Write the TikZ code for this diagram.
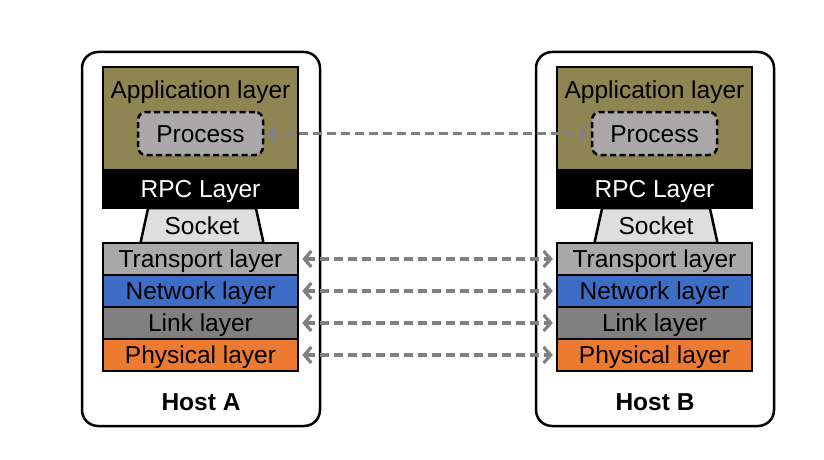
\documentclass[tikz,border=0pt]{standalone}
\usepackage{fontspec}
\setmainfont{Liberation Sans}
\usetikzlibrary{shapes,arrows.meta}
\definecolor{appcol}{HTML}{8E8553}
\definecolor{sockcol}{HTML}{DEDEDE}
\definecolor{transcol}{HTML}{A9A9A9}
\definecolor{netcol}{HTML}{3E6DC6}
\definecolor{linkcol}{HTML}{808080}
\definecolor{physcol}{HTML}{EC7A30}
\definecolor{proccol}{HTML}{AAA8A8}
\definecolor{arrcol}{HTML}{808080}
\tikzset{
	host/.style     = {draw, line width=2.5, rounded corners=16, minimum width=238,
		minimum height=374},
	caps/.style     = {font=\txt, text height=17.5, text depth=0},
	layer/.style    = {draw, line width=2.5, minimum width=195, minimum height=32,
		inner sep=0, caps},
	proc/.style     = {draw, line width=2.5, dash pattern=on 6 off 3.5, rounded corners=8,
		fill=proccol, minimum width=125, minimum height=43, inner sep=0, caps},
	sock/.style     = {draw, line width=2.5, trapezium, trapezium left angle=73,
		trapezium right angle=73, trapezium stretches, minimum width=124,
		minimum height=35, inner sep=0, fill=sockcol, caps},
	link/.style     = {draw=arrcol, line width=3.2, dash pattern=on 9 off 5,
		{Straight Barb[length=7,width=16,line width=3.2]}-{Straight Barb[length=7,width=16,line width=3.2]},
		shorten <=3, shorten >=3}
}
\newcommand{\txt}{\fontsize{24.5}{28}\selectfont}

\begin{document}
\begin{tikzpicture}[x=1pt, y=-1pt]
	\useasboundingbox (0,0) rectangle (824,460);

	% Host A
	\draw
	node at (201,239) [host] (hA) {}
	node at (200.5,118.5) [layer, fill=appcol, minimum height=103,
		label={[caps, anchor=north, inner sep=0, yshift=-15]north:Application layer}] (aA) {}
	node at (200.5,133.5) [proc] (pA) {Process}
	node at (200.5,189) [layer, fill=black, text=white, minimum height=38] (rA) {RPC Layer}
	node at (202,225.5) [sock] (sA) {Socket}
	node at (200.5,259) [layer, fill=transcol] (tA) {Transport layer}
	node at (200.5,291) [layer, fill=netcol] (nA) {Network layer}
	node at (200.5,323) [layer, fill=linkcol] (lA) {Link layer}
	node at (200.5,355) [layer, fill=physcol] (phA) {Physical layer}
	node at (201,402) [caps, font=\txt\bfseries] (hlA) {Host A};

	% Host B
	\draw
	node at (655,239) [host] (hB) {}
	node at (654.5,118.5) [layer, fill=appcol, minimum height=103,
		label={[caps, anchor=north, inner sep=0, yshift=-15]north:Application layer}] (aB) {}
	node at (654.5,133.5) [proc] (pB) {Process}
	node at (654.5,189) [layer, fill=black, text=white, minimum height=38] (rB) {RPC Layer}
	node at (656,225.5) [sock] (sB) {Socket}
	node at (654.5,259) [layer, fill=transcol] (tB) {Transport layer}
	node at (654.5,291) [layer, fill=netcol] (nB) {Network layer}
	node at (654.5,323) [layer, fill=linkcol] (lB) {Link layer}
	node at (654.5,355) [layer, fill=physcol] (phB) {Physical layer}
	node at (655,402) [caps, font=\txt\bfseries] (hlB) {Host B};

	% peer links
	\draw[link](pA)--(pB);
	\draw[link](tA)--(tB);
	\draw[link](nA)--(nB);
	\draw[link](lA)--(lB);
	\draw[link](phA)--(phB);

\end{tikzpicture}
\end{document}
